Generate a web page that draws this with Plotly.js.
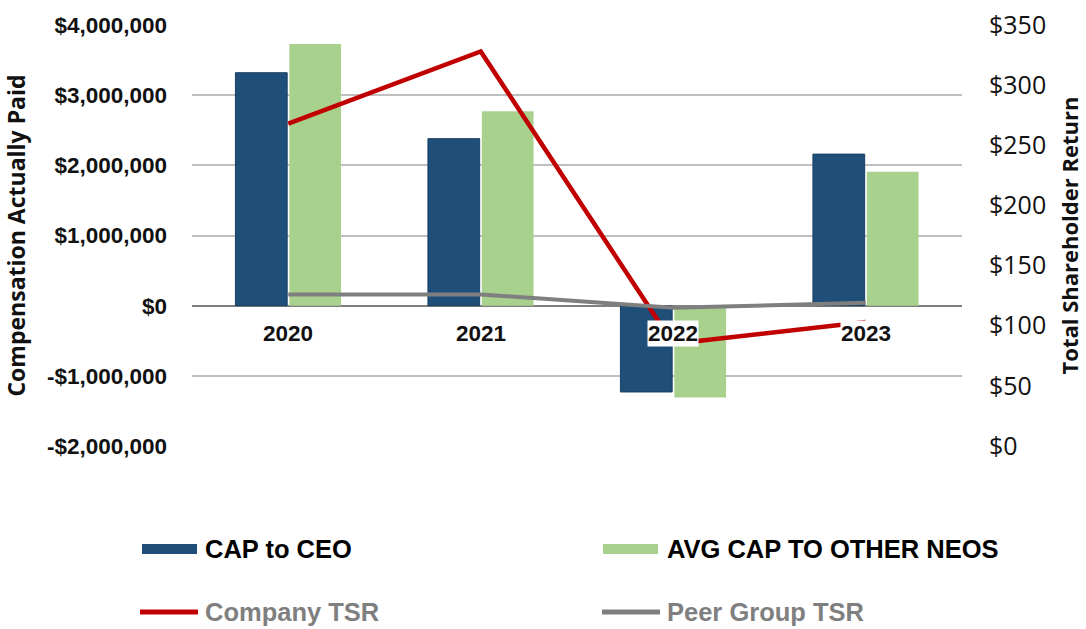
<!DOCTYPE html>
<html><head><meta charset="utf-8">
<script src="https://cdn.plot.ly/plotly-3.0.1.min.js"></script>
<style>html,body{margin:0;padding:0;background:#fff}#chart{width:1086px;height:629px}</style>
</head><body><div id="chart"></div>
<script>
// ---- data ----
const years = ['2020', '2021', '2022', '2023'];
const capCEO = [3320000, 2380000, -1230000, 2160000];
const capNEO = [3730000, 2770000, -1310000, 1910000];
const companyTSR = [268, 328, 85, 103];
const peerTSR = [126, 126, 115, 119];
const leftTickVals = [-2000000, -1000000, 0, 1000000, 2000000, 3000000, 4000000];
const leftTickText = ['-$2,000,000', '-$1,000,000', '$0', '$1,000,000', '$2,000,000', '$3,000,000', '$4,000,000'];
const rightTickVals = [0, 50, 100, 150, 200, 250, 300, 350];
const rightTickText = ['$0', '$50', '$100', '$150', '$200', '$250', '$300', '$350'];
const seriesNames = ['CAP to CEO', 'AVG CAP TO OTHER NEOS', 'Company TSR', 'Peer Group TSR'];

// ---- styles ----
const colors = ['#1F4E79', '#A9D18E', '#C00000', '#7F7F7F'];
const W = 1086, H = 629;
const M = {l: 192, r: 124, t: 25, b: 183};
const plotW = W - M.l - M.r, plotH = H - M.t - M.b;
const px = x => (x - M.l) / plotW;
const py = y => (H - M.b - y) / plotH;

const traces = [
  {type: 'bar', name: seriesNames[0], x: years, y: capCEO, xaxis: 'x', yaxis: 'y',
   marker: {color: colors[0], line: {color: '#183F63', width: 1}}, showlegend: false},
  {type: 'bar', name: seriesNames[1], x: years, y: capNEO, xaxis: 'x', yaxis: 'y',
   marker: {color: colors[1]}, showlegend: false},
  {type: 'scatter', mode: 'lines', name: seriesNames[2], x: years, y: companyTSR, xaxis: 'x', yaxis: 'y2',
   line: {color: colors[2], width: 4.5}, showlegend: false},
  {type: 'scatter', mode: 'lines', name: seriesNames[3], x: years, y: peerTSR, xaxis: 'x', yaxis: 'y2',
   line: {color: colors[3], width: 4}, showlegend: false}
];

const annotations = years.map((yr, i) => ({
  x: i, y: 0, xref: 'x', yref: 'y', text: yr, showarrow: false, xanchor: 'center',
  bgcolor: '#FFFFFF', borderpad: 0, yanchor: 'middle', yshift: -28,
  font: {family: 'Liberation Sans, Arial, sans-serif', size: 22.5, weight: 'bold', color: '#111'}
}));

// manual legend (layout positions in pixels converted to paper)
const legendItems = [
  {i: 0, kind: 'bar', sx: 142, tx: 203, y: 549, tcolor: '#000'},
  {i: 1, kind: 'bar', sx: 603, tx: 665, y: 549, tcolor: '#000'},
  {i: 2, kind: 'line', sx: 140, tx: 203, y: 612, tcolor: '#7F7F7F'},
  {i: 3, kind: 'line', sx: 602, tx: 665, y: 612, tcolor: '#7F7F7F'}
];
const shapes = [];
legendItems.forEach(it => {
  if (it.kind === 'bar') {
    shapes.push({type: 'rect', xref: 'paper', yref: 'paper',
      x0: px(it.sx), x1: px(it.sx + 55), y0: py(it.y - 5), y1: py(it.y + 5),
      fillcolor: colors[it.i], line: {width: 0}});
  } else {
    shapes.push({type: 'line', xref: 'paper', yref: 'paper',
      x0: px(it.sx), x1: px(it.sx + 58), y0: py(it.y), y1: py(it.y),
      line: {color: colors[it.i], width: 5}});
  }
  annotations.push({xref: 'paper', yref: 'paper', x: px(it.tx), y: py(it.y),
    xanchor: 'left', yanchor: 'middle', showarrow: false, text: seriesNames[it.i],
    font: {family: 'Liberation Sans, Arial, sans-serif', size: 25.5, weight: 'bold', color: it.tcolor}});
});

const layout = {
  width: W, height: H, margin: M,
  paper_bgcolor: '#FFFFFF', plot_bgcolor: '#FFFFFF',
  showlegend: false,
  barmode: 'group', bargap: 0.44, bargroupgap: 0.04,
  xaxis: {type: 'category', categoryorder: 'array', categoryarray: years, range: [-0.5, 3.5],
    showticklabels: false, showgrid: false, zeroline: false, showline: false, ticks: ''},
  yaxis: {range: [-2000000, 4000000], tickmode: 'array', tickvals: leftTickVals, ticktext: leftTickText,
    showgrid: true, gridcolor: '#BFBFBF', gridwidth: 2,
    zeroline: true, zerolinecolor: '#7F7F7F', zerolinewidth: 2,
    showline: false, ticks: '', ticklabelstandoff: 24,
    tickfont: {family: 'Liberation Sans, Arial, sans-serif', size: 22.5, weight: 'bold', color: '#111'},
    title: {text: 'Compensation Actually Paid', standoff: 14,
      font: {family: 'Open Sans, sans-serif', size: 23, weight: 'bold', color: '#111'}}},
  yaxis2: {range: [0, 350], overlaying: 'y', side: 'right', anchor: 'x', tickmode: 'array',
    tickvals: rightTickVals, ticktext: rightTickText,
    showgrid: false, zeroline: false, showline: false, ticks: '', ticklabelstandoff: 26,
    tickfont: {family: 'Open Sans, sans-serif', size: 25, color: '#111'},
    title: {text: 'Total Shareholder Return', standoff: 17,
      font: {family: 'Open Sans, sans-serif', size: 22, weight: 'bold', color: '#111'}}},
  annotations: annotations,
  shapes: shapes
};

Plotly.newPlot('chart', traces, layout, {displayModeBar: false, staticPlot: true});
</script>
</body></html>
